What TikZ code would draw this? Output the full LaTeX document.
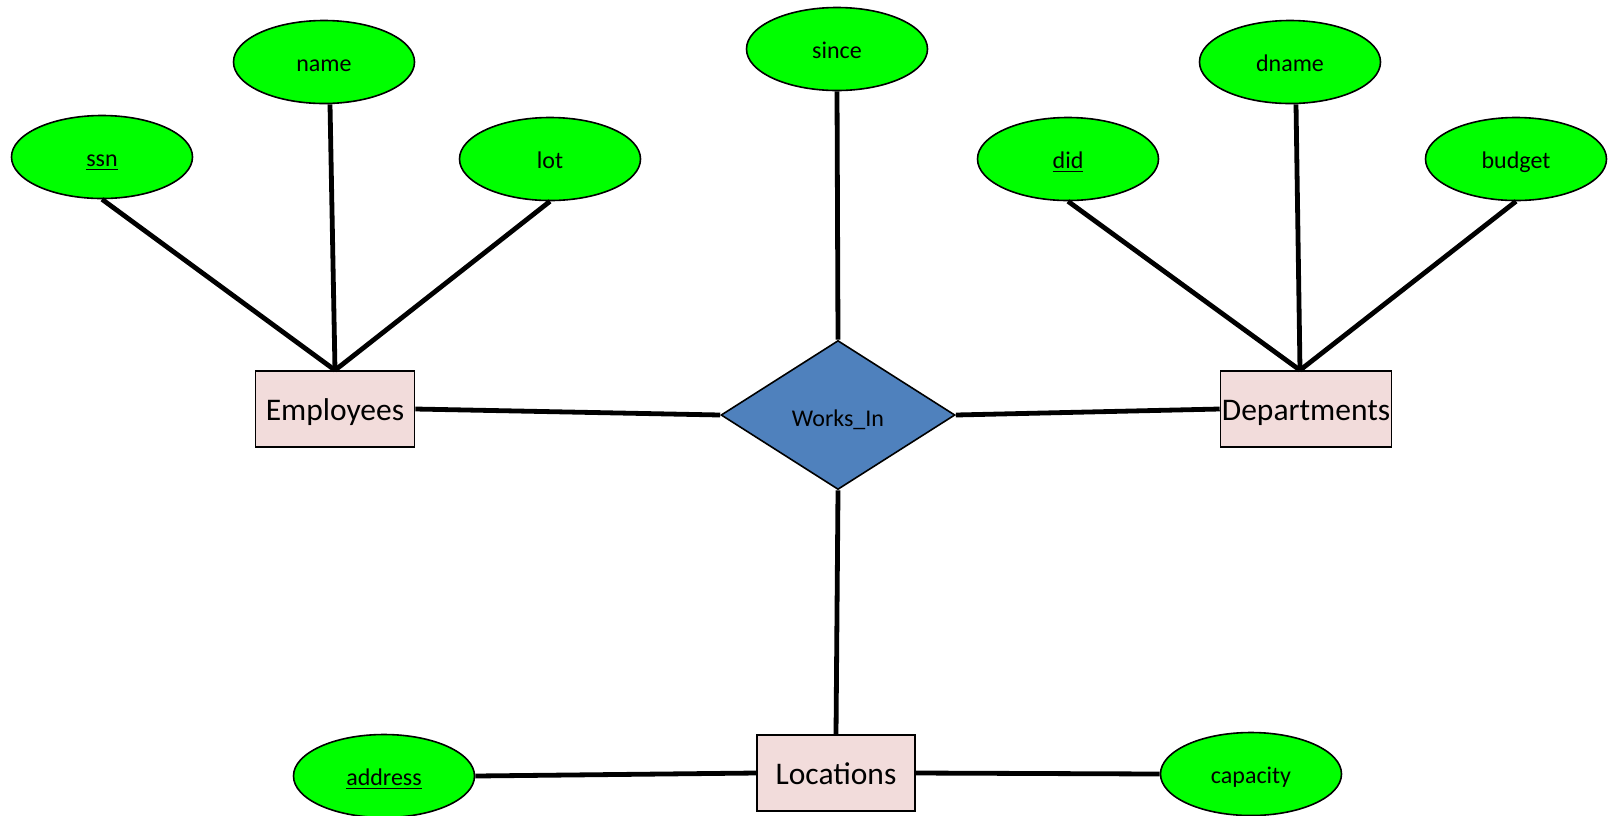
\documentclass[tikz,border=0pt]{standalone}
\usepackage{fontspec}
\setmainfont{Carlito}
\usetikzlibrary{shapes, positioning}

\definecolor{attrgreen}{RGB}{0,255,0}
\definecolor{entpink}{RGB}{242,220,219}
\definecolor{relblue}{RGB}{79,129,189}

\begin{document}
\begin{tikzpicture}[x=0.5pt, y=-0.5pt,
    attr/.style={ellipse, draw, line width=0.8pt, fill=attrgreen, minimum width=90.5pt, minimum height=41.5pt, inner sep=0pt, text height=9pt, text depth=0pt, font=\fontsize{12}{14}\selectfont},
    entity/.style={rectangle, draw, line width=0.8pt, fill=entpink, minimum height=38pt, inner sep=0pt, text height=11.5pt, text depth=0pt, font=\fontsize{15.75}{18}\selectfont},
    rel/.style={diamond, draw, line width=0.8pt, fill=relblue, minimum width=117pt, minimum height=74.5pt, inner sep=0pt, text height=11pt, text depth=0pt, font=\fontsize{12}{14}\selectfont},
    link/.style={line width=2.4pt}]
    \useasboundingbox (0,0) rectangle (1610,815);

    \node[rel] (works) at (838,415) {Works\_In};

    \node[entity, minimum width=79.5pt] (emp) at (335,409) {Employees};
    \node[entity, minimum width=85.5pt] (dep) at (1306,409) {Departments};
    \node[entity, minimum width=79pt] (loc) at (836,773) {Locations};

    \node[attr] (ssn) at (102,157) {\underline{ssn}};
    \node[attr] (name) at (324,62) {name};
    \node[attr] (lot) at (550,159) {lot};

    \node[attr] (since) at (837,49) {since};

    \node[attr] (did) at (1068,159) {\underline{did}};
    \node[attr] (dname) at (1290,62) {dname};
    \node[attr] (budget) at (1516,159) {budget};

    \node[attr] (address) at (384,776) {\underline{address}};
    \node[attr] (capacity) at (1251,774) {capacity};

    \draw[link] (ssn.south) -- (emp.north);
    \draw[link] ([xshift=3pt]name.south) -- (emp.north);
    \draw[link] (lot.south) -- (emp.north);

    \draw[link] (did.south) -- ([xshift=-3pt]dep.north);
    \draw[link] ([xshift=3pt]dname.south) -- ([xshift=-3pt]dep.north);
    \draw[link] (budget.south) -- ([xshift=-3pt]dep.north);

    \draw[link] (since.south) -- (works.north);
    \draw[link] (emp.east) -- (works.west);
    \draw[link] (works.east) -- (dep.west);
    \draw[link] (works.south) -- (loc.north);

    \draw[link] (address.east) -- (loc.west);
    \draw[link] (loc.east) -- (capacity.west);
\end{tikzpicture}
\end{document}
